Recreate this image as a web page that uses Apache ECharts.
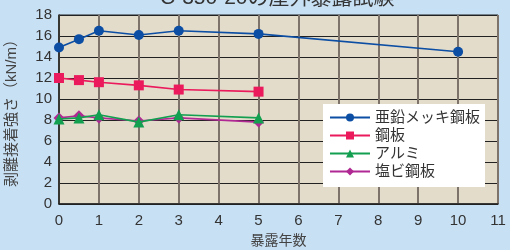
<!DOCTYPE html>
<html>
<head>
<meta charset="utf-8">
<script src="https://cdn.jsdelivr.net/npm/echarts@6/dist/echarts.min.js"></script>
<style>
  html, body { margin: 0; padding: 0; background: #c8e0f4; }
  #chart { width: 510px; height: 250px; }
</style>
</head>
<body>
<div id="chart"></div>
<script>
// 暴露試験のデータ
const seriesNames = ['亜鉛メッキ鋼板', '鋼板', 'アルミ', '塩ビ鋼板'];
const zincYears = [0, 0.5, 1, 2, 3, 5, 10];
const zincValues = [14.9, 15.7, 16.5, 16.1, 16.5, 16.2, 14.5];
const otherYears = [0, 0.5, 1, 2, 3, 5];
const steelValues = [12.0, 11.8, 11.6, 11.3, 10.9, 10.7];
const aluValues = [8.1, 8.2, 8.5, 7.8, 8.5, 8.2];
const pvcValues = [8.2, 8.4, 8.2, 7.9, 8.2, 7.8];

const colors = ['#0c4ea3', '#ea1a5c', '#12a050', '#b02893'];
const symbols = ['circle', 'rect', 'triangle', 'diamond'];
const symbolSizes = [10, 10, 11, 11];

const pairs = (xs, ys) => xs.map((x, i) => [x, ys[i]]);
const dataSets = [
  pairs(zincYears, zincValues),
  pairs(otherYears, steelValues),
  pairs(otherYears, aluValues),
  pairs(otherYears, pvcValues)
];

const font = '"Liberation Sans", "Noto Sans CJK JP", sans-serif';
const myChart = echarts.init(document.getElementById('chart'));

myChart.setOption({
  backgroundColor: '#c8e0f4',
  animation: false,
  textStyle: { fontFamily: font },
  title: {
    text: 'C-350-20の屋外暴露試験',
    left: 155,
    top: -17,
    textStyle: { fontSize: 21, color: '#333', fontFamily: font, fontWeight: 'normal' }
  },
  grid: {
    left: 59, right: 12, top: 15, bottom: 46,
    outerBoundsMode: 'none',
    show: true,
    backgroundColor: '#e4dccb',
    borderColor: '#222',
    borderWidth: 1
  },
  legend: {
    orient: 'vertical',
    right: 25,
    top: 104,
    backgroundColor: '#fff',
    borderRadius: 0,
    padding: [6, 5, 8, 6],
    itemGap: 3,
    itemWidth: 40,
    itemHeight: 10,
    textStyle: { fontSize: 15, color: '#333', fontFamily: font },
    data: seriesNames
  },
  xAxis: {
    type: 'value',
    min: 0, max: 11, interval: 1,
    name: '暴露年数',
    nameLocation: 'middle',
    nameGap: 30,
    nameTextStyle: { fontSize: 14, color: '#444', fontFamily: font },
    axisLine: { lineStyle: { color: '#222', width: 1.5 } },
    axisTick: { show: false },
    axisLabel: { fontSize: 15, color: '#333', margin: 9 },
    splitLine: { show: true, lineStyle: { color: '#7d736a', width: 2 } }
  },
  yAxis: {
    type: 'value',
    min: 0, max: 18, interval: 2,
    name: '剥離接着強さ（kN/m）',
    nameLocation: 'middle',
    nameGap: 40,
    nameTextStyle: { fontSize: 15, color: '#444', fontFamily: font },
    axisLine: { show: true, lineStyle: { color: '#222', width: 1.5 } },
    axisTick: { show: false },
    axisLabel: { fontSize: 15, color: '#333', margin: 7 },
    splitLine: { show: true, lineStyle: { color: '#222', width: 1 } }
  },
  series: seriesNames.map((name, i) => ({
    name: name,
    type: 'line',
    data: dataSets[i],
    symbol: symbols[i],
    symbolSize: symbolSizes[i],
    itemStyle: { color: colors[i] },
    lineStyle: { color: colors[i], width: 1.6 },
    z: 10 - i
  }))
});
</script>
</body>
</html>
